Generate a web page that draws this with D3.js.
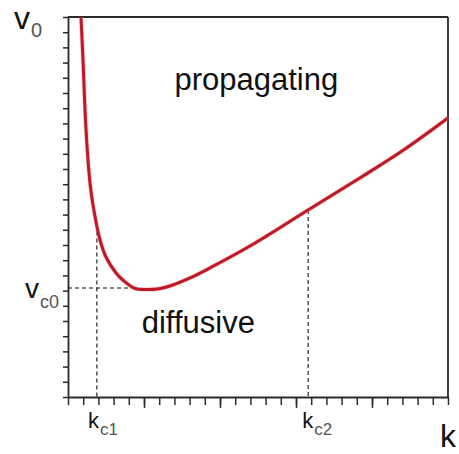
<!DOCTYPE html>
<html>
<head>
<meta charset="utf-8">
<script src="https://cdn.jsdelivr.net/npm/d3@7/dist/d3.min.js"></script>
<style>
  html, body { margin: 0; padding: 0; background: #fff; }
  svg { display: block; font-family: "Liberation Sans", Arial, sans-serif; }
</style>
</head>
<body>
<svg id="chart" width="459" height="454"></svg>
<script>
// Critical driving speed v0 versus wavenumber k (axes in arbitrary tick units)
const curveK = [0.855, 0.987, 1.151, 1.316, 1.447, 1.645, 2.105, 2.5, 3.158, 3.75, 4.41, 5.13, 5.86, 6.9, 8.03, 9.34, 11.97, 15.79, 19.2, 22.0, 25.0];
const curveV = [25.0, 22.17, 18.22, 15.59, 14.08, 12.63, 10.33, 9.21, 8.16, 7.57, 7.14, 7.07, 7.1, 7.37, 7.83, 8.49, 9.93, 12.3, 14.41, 16.2, 18.36];

// Critical points marked on the axes
const kc1 = 1.9;
const kc2 = 15.8;
const vc0 = 7.17;

// Axis extent and tick positions
const kDomain = [0, 25];
const vDomain = [0, 25];
const minorTicks = d3.range(0, 26, 1);
const majorTicks = [5, 10, 15, 20];

// Region labels
const regionLabels = [
  { text: "propagating", k: 7.0, v: 20.2 },
  { text: "diffusive", k: 4.85, v: 4.2 }
];

const svg = d3.select("#chart");
const plotLeft = 68, plotTop = 17, plotSize = 380;

const x = d3.scaleLinear().domain(kDomain).range([plotLeft, plotLeft + plotSize]);
const y = d3.scaleLinear().domain(vDomain).range([plotTop + plotSize, plotTop]);

const axisColor = "#2a2a2a";

// Frame: top and right edges
svg.append("line")
  .attr("x1", x(kDomain[0])).attr("x2", x(kDomain[1]))
  .attr("y1", y(vDomain[1])).attr("y2", y(vDomain[1]))
  .attr("stroke", axisColor).attr("stroke-width", 1.8);
svg.append("line")
  .attr("x1", x(kDomain[1])).attr("x2", x(kDomain[1]))
  .attr("y1", y(vDomain[1])).attr("y2", y(vDomain[0]))
  .attr("stroke", axisColor).attr("stroke-width", 1.8);

// Bottom axis: minor and longer major ticks
const gx = svg.append("g").attr("transform", `translate(0,${y(0)})`)
  .call(d3.axisBottom(x).tickValues(minorTicks).tickSize(8).tickSizeOuter(0).tickFormat(""));
const gx2 = svg.append("g").attr("transform", `translate(0,${y(0)})`)
  .call(d3.axisBottom(x).tickValues(majorTicks).tickSize(11).tickSizeOuter(0).tickFormat(""));
gx2.select(".domain").remove();

// Left axis
const gy = svg.append("g").attr("transform", `translate(${x(0)},0)`)
  .call(d3.axisLeft(y).tickValues(minorTicks).tickSize(5).tickSizeOuter(0).tickFormat(""));

[gx, gx2, gy].forEach(g => {
  g.selectAll("line").attr("stroke", axisColor).attr("stroke-width", 1.5);
  g.select(".domain").attr("stroke", axisColor).attr("stroke-width", 1.8);
});

// Curve v0(k)
const pts = curveK.map((k, i) => [k, curveV[i]]);
const line = d3.line()
  .x(d => x(d[0])).y(d => y(d[1]))
  .curve(d3.curveCatmullRom.alpha(0.5));

// Interpolated v0 at a given k, used to end the dashed guides on the curve
function vAt(k) {
  for (let i = 1; i < pts.length; i++) {
    if (k <= pts[i][0]) {
      const t = (k - pts[i - 1][0]) / (pts[i][0] - pts[i - 1][0]);
      return pts[i - 1][1] + t * (pts[i][1] - pts[i - 1][1]);
    }
  }
  return pts[pts.length - 1][1];
}

// Dashed guides
const dash = "4,3";
svg.append("line")
  .attr("x1", x(kc1)).attr("x2", x(kc1))
  .attr("y1", y(vAt(kc1))).attr("y2", y(0))
  .attr("stroke", "#111").attr("stroke-width", 1.1).attr("stroke-dasharray", dash);
svg.append("line")
  .attr("x1", x(kc2)).attr("x2", x(kc2))
  .attr("y1", y(vAt(kc2))).attr("y2", y(0))
  .attr("stroke", "#111").attr("stroke-width", 1.1).attr("stroke-dasharray", dash);
svg.append("line")
  .attr("x1", x(0)).attr("x2", x(4.3))
  .attr("y1", y(vc0)).attr("y2", y(vc0))
  .attr("stroke", "#111").attr("stroke-width", 1.1).attr("stroke-dasharray", dash);

// Red curve with a soft halo
svg.append("path").datum(pts)
  .attr("d", line).attr("fill", "none")
  .attr("stroke", "#f0a0a0").attr("stroke-width", 4.5).attr("stroke-opacity", 0.5);
svg.append("path").datum(pts)
  .attr("d", line).attr("fill", "none")
  .attr("stroke", "#c01825").attr("stroke-width", 3)
  .attr("stroke-linejoin", "round");

// Region labels
svg.selectAll("text.region").data(regionLabels).enter()
  .append("text").attr("class", "region")
  .attr("x", d => x(d.k)).attr("y", d => y(d.v))
  .attr("font-size", 31).attr("fill", "#111")
  .text(d => d.text);

// Label helper: main letter followed by a gray subscript
function subLabel(px, py, main, sub, mainSize, subSize, dy) {
  const t = svg.append("text").attr("x", px).attr("y", py).attr("fill", "#111");
  t.append("tspan").attr("font-size", mainSize).text(main);
  t.append("tspan").attr("font-size", subSize).attr("dy", dy).attr("dx", 1)
    .attr("fill", "#555").text(sub);
}

subLabel(14, 29, "v", "0", 32, 20, 8);
subLabel(25, 298, "v", "c0", 28, 18, 10);
subLabel(x(kc1) - 9, 428, "k", "c1", 22, 17, 7);
subLabel(x(kc2) - 6, 428, "k", "c2", 22, 17, 7);

svg.append("text").attr("x", 440).attr("y", 447)
  .attr("font-size", 32).attr("fill", "#111").text("k");
</script>
</body>
</html>
